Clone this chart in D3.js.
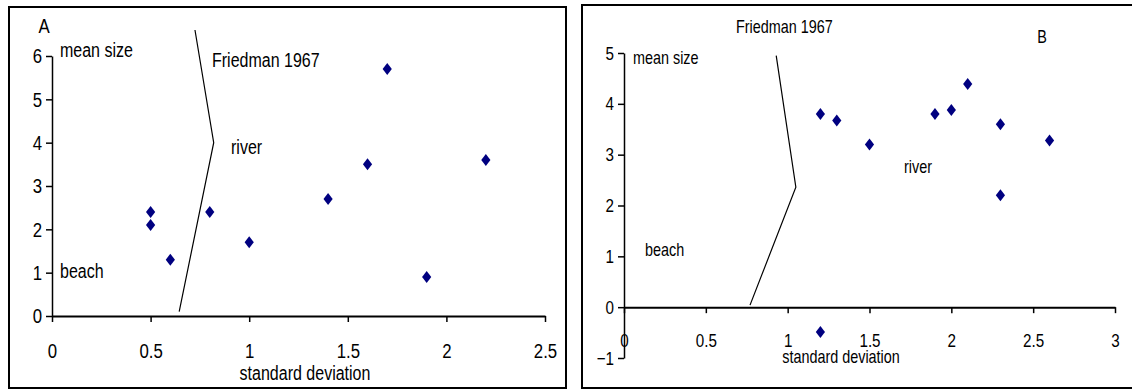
<!DOCTYPE html>
<html>
<head>
<meta charset="utf-8">
<script src="https://cdn.jsdelivr.net/npm/d3@7.9.0/dist/d3.min.js"></script>
<style>
  body { margin: 0; background: #fff; }
  svg text { font-family: "Liberation Sans Narrow", "Arial Narrow", "Liberation Sans", sans-serif; fill: #000; }
</style>
</head>
<body>
<svg id="chart" width="1132" height="389"></svg>
<script>
// ---------- Data ----------

// Panel A: mean size vs standard deviation
const sdA = [0.5, 0.5, 0.6, 0.8, 1.0, 1.4, 1.6, 1.7, 1.9, 2.2];
const meanA = [2.4, 2.1, 1.3, 2.4, 1.7, 2.7, 3.5, 5.7, 0.9, 3.6];
// Friedman 1967 boundary line (panel A)
const friedmanXA = [0.725, 0.82, 0.645];
const friedmanYA = [6.6, 4.0, 0.1];
const xTicksA = [0, 0.5, 1, 1.5, 2, 2.5];
const yTicksA = [0, 1, 2, 3, 4, 5, 6];

// Panel B
const sdB = [1.2, 1.3, 1.5, 1.9, 2.0, 2.1, 2.3, 2.3, 2.6, 1.2];
const meanB = [3.8, 3.67, 3.2, 3.8, 3.88, 4.39, 3.6, 2.2, 3.28, -0.49];
const friedmanXB = [0.93, 1.05, 0.77];
const friedmanYB = [4.95, 2.36, 0.04];
const xTicksB = [0, 0.5, 1, 1.5, 2, 2.5, 3];
const yTicksB = [-1, 0, 1, 2, 3, 4, 5];

const svg = d3.select("#chart");

// no narrow font installed -> squeeze text horizontally
const SX = 0.8;

// diamond marker path
const diamond = "M0,-6L4.6,0L0,6L-4.6,0Z";

// draws one scatter panel
function drawPanel(cfg) {
  const g = svg.append("g");

  // frame
  g.append("rect")
    .attr("x", cfg.box[0]).attr("y", cfg.box[1])
    .attr("width", cfg.box[2]).attr("height", cfg.box[3])
    .attr("fill", "none")
    .attr("stroke", "#000")
    .attr("stroke-width", 2);

  const x = d3.scaleLinear().domain(cfg.xDomain).range(cfg.xRange);
  const y = d3.scaleLinear().domain(cfg.yDomain).range(cfg.yRange);

  // x axis at y = 0, ticks pointing down
  const xAxis = g.append("g")
    .attr("transform", `translate(0,${y(0)})`)
    .call(d3.axisBottom(x).tickValues(cfg.xTicks).tickSize(6).tickSizeOuter(0)
      .tickFormat(d3.format("")));
  xAxis.select(".domain").attr("stroke-width", 2);
  xAxis.selectAll(".tick line").attr("stroke-width", 1.5);
  xAxis.selectAll("text")
    .attr("y", cfg.xLabelDy)
    .attr("dy", 0)
    .attr("transform", `scale(${SX},1)`)
    .style("font-size", cfg.fs + "px");

  // y axis at x = 0
  const yAxis = g.append("g")
    .attr("transform", `translate(${x(0)},0)`)
    .call(d3.axisLeft(y).tickValues(cfg.yTicks).tickSize(6).tickSizeOuter(0)
      .tickFormat(d3.format("")));
  yAxis.select(".domain").attr("stroke-width", 1.5);
  yAxis.selectAll(".tick line").attr("stroke-width", 1.5);
  yAxis.selectAll("text")
    .attr("x", -10 / SX)
    .attr("transform", `scale(${SX},1)`)
    .style("font-size", cfg.fs + "px");

  // Friedman line
  const pts = cfg.fx.map((v, i) => [x(v), y(cfg.fy[i])]);
  g.append("path")
    .attr("d", d3.line()(pts))
    .attr("fill", "none")
    .attr("stroke", "#000")
    .attr("stroke-width", 1.2);

  // points
  g.selectAll(".pt")
    .data(cfg.sd.map((v, i) => [v, cfg.mean[i]]))
    .join("path")
    .attr("class", "pt")
    .attr("d", diamond)
    .attr("fill", "#000080")
    .attr("transform", d => `translate(${x(d[0])},${y(d[1])})`);

  // annotations
  cfg.labels.forEach(l => {
    g.append("text")
      .attr("transform", `translate(${l.x},${l.y}) scale(${SX},1)`)
      .attr("text-anchor", l.anchor || "start")
      .style("font-size", (l.fs || cfg.fs) + "px")
      .text(l.t);
  });
}

drawPanel({
  box: [9, 7, 557, 381],
  xDomain: [0, 2.5], xRange: [52, 545],
  yDomain: [0, 6], yRange: [316, 56],
  xTicks: xTicksA, yTicks: yTicksA,
  xLabelDy: 42, fs: 21,
  sd: sdA, mean: meanA, fx: friedmanXA, fy: friedmanYA,
  labels: [
    { t: "A", x: 44, y: 33, anchor: "middle" },
    { t: "mean size", x: 60, y: 57, fs: 20 },
    { t: "Friedman 1967", x: 212, y: 67, fs: 20 },
    { t: "river", x: 231, y: 154, fs: 20 },
    { t: "beach", x: 60, y: 278, fs: 20 },
    { t: "standard deviation", x: 305, y: 380, anchor: "middle", fs: 20 }
  ]
});

drawPanel({
  box: [582, 5, 560, 383],
  xDomain: [0, 3], xRange: [624, 1115],
  yDomain: [-1, 5], yRange: [358, 53],
  xTicks: xTicksB, yTicks: yTicksB,
  xLabelDy: 40, fs: 19,
  sd: sdB, mean: meanB, fx: friedmanXB, fy: friedmanYB,
  labels: [
    { t: "Friedman 1967", x: 736, y: 33, fs: 18 },
    { t: "B", x: 1042, y: 43, anchor: "middle", fs: 18 },
    { t: "mean size", x: 633, y: 64, fs: 18 },
    { t: "river", x: 904, y: 173, fs: 18 },
    { t: "beach", x: 645, y: 256, fs: 18 },
    { t: "standard deviation", x: 841, y: 363, anchor: "middle", fs: 18 }
  ]
});
</script>
</body>
</html>
